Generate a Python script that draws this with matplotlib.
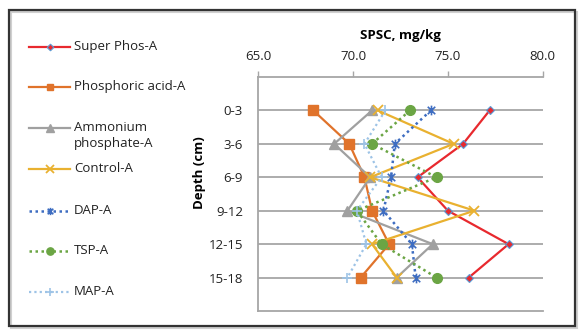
import matplotlib.pyplot as plt
from matplotlib.path import Path
from matplotlib.patches import Rectangle

plt.rcParams['font.family'] = ['Open Sans', 'DejaVu Sans']

depths = ["0-3", "3-6", "6-9", "9-12", "12-15", "15-18"]
x_ticks = [65.0, 70.0, 75.0, 80.0]

super_phos = [77.2, 75.8, 73.4, 75.0, 78.2, 76.1]
phosphoric = [67.9, 69.8, 70.6, 71.0, 71.9, 70.4]
ammonium = [71.0, 69.0, 70.9, 69.7, 74.2, 72.3]
control = [71.3, 75.3, 70.9, 76.4, 71.0, 72.3]
dap = [74.1, 72.2, 72.0, 71.6, 73.1, 73.3]
tsp = [73.0, 71.0, 74.4, 70.2, 71.5, 74.4]
map_a = [71.7, 70.6, 71.5, 70.2, 70.7, 69.7]

# excel style "star": an x with a vertical bar through it
star = Path([(-1, -1), (1, 1), (-1, 1), (1, -1), (0, -1.3), (0, 1.3)],
            [Path.MOVETO, Path.LINETO, Path.MOVETO, Path.LINETO, Path.MOVETO, Path.LINETO])

dot = (0, (1, 1.4))
series = [
    ("Super Phos-A", super_phos, dict(color="#E8292E", lw=1.6, ls="-", marker="D", ms=4.5,
                                      mfc="#E8292E", mec="#5B9BD5", mew=0.8)),
    ("Phosphoric acid-A", phosphoric, dict(color="#E0732B", lw=1.6, ls="-", marker="s", ms=6.5,
                                           mfc="#E0732B", mec="#E0732B")),
    ("Ammonium\nphosphate-A", ammonium, dict(color="#A0A0A0", lw=1.6, ls="-", marker="^", ms=7.5,
                                             mfc="#A0A0A0", mec="#A0A0A0")),
    ("Control-A", control, dict(color="#E9B130", lw=1.6, ls="-", marker="x", ms=7,
                                mec="#E9B130", mew=1.3)),
    ("DAP-A", dap, dict(color="#3E6DC1", lw=1.8, ls=dot, marker=star, ms=7,
                        mec="#3E6DC1", mew=1.2)),
    ("TSP-A", tsp, dict(color="#6BA544", lw=1.8, ls=dot, marker="o", ms=7,
                        mfc="#6BA544", mec="#6BA544")),
    ("MAP-A", map_a, dict(color="#9DC3E6", lw=1.6, ls=dot, marker="+", ms=7,
                          mec="#9DC3E6", mew=1.2)),
]

W, H = 585, 331
fig = plt.figure(figsize=(W / 100, H / 100), dpi=100)

# pixel-space overlay for the frame and the legend
lax = fig.add_axes([0, 0, 1, 1])
lax.set_xlim(0, W)
lax.set_ylim(H, 0)
lax.axis("off")
lax.add_patch(Rectangle((10.5, 11.5), 566, 316, fill=False, ec="#D0D0D0", lw=1.5))
lax.add_patch(Rectangle((9, 10), 566, 316, fill=False, ec="#333333", lw=1.6))

leg_y = [47, 87, 128, 169, 211, 251, 292]
for (name, vals, st), yy in zip(series, leg_y):
    lax.plot([29, 70], [yy, yy], color=st["color"], lw=st["lw"], ls=st["ls"])
    mk = {k: v for k, v in st.items() if k not in ("color", "lw", "ls")}
    mk["ms"] = st["ms"] * 0.75
    lax.plot([49.5], [yy], ls="none", color=st["color"], **mk)
    lax.text(74, yy - 7, name, fontsize=9.5, va="top", ha="left", color="#222222",
             linespacing=1.25)

ax = fig.add_axes([258.3 / W, 20 / H, 284.4 / W, 234 / H])
ax.patch.set_alpha(0)
ypos = list(range(1, len(depths) + 1))
for name, vals, st in series:
    ax.plot(vals, ypos, **st, zorder=3)

ax.set_xlim(65, 80)
ax.set_ylim(7, 0)
ax.set_xticks(x_ticks)
ax.set_xticklabels([f"{v:.1f}" for v in x_ticks])
ax.set_yticks(ypos)
ax.set_yticklabels(depths)
ax.xaxis.tick_top()
ax.tick_params(axis="x", direction="out", length=4, width=1, color="#A6A6A6", pad=6,
               labelsize=9.5, labelcolor="#222222")
ax.tick_params(axis="y", length=0, pad=11, labelsize=9.5, labelcolor="#222222")
ax.grid(axis="y", color="#A6A6A6", lw=1.3)
for s in ["top", "left", "bottom"]:
    ax.spines[s].set_color("#A6A6A6")
    ax.spines[s].set_linewidth(1.3)
ax.spines["right"].set_visible(False)

fig.text(400 / W, 1 - 36 / H, "SPSC, mg/kg", ha="center", va="center",
         fontsize=9.5, fontweight="bold")
fig.text(200 / W, 1 - 173 / H, "Depth (cm)", ha="center", va="center",
         rotation=90, fontsize=9.5, fontweight="bold")

fig.savefig("out.png", dpi=100)
